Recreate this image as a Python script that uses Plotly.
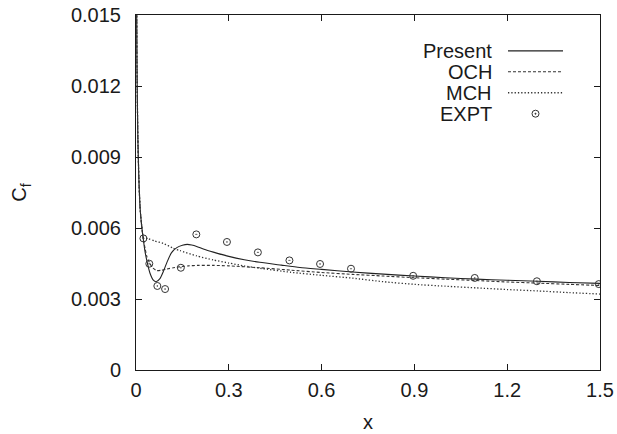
import plotly.graph_objects as go

# Skin-friction coefficient along the plate
present_x = [0.0015, 0.002, 0.003, 0.004, 0.006, 0.008, 0.010, 0.013, 0.016, 0.020, 0.024,
             0.028, 0.0345, 0.045, 0.056, 0.065, 0.078, 0.088, 0.101, 0.115, 0.132, 0.150,
             0.166, 0.180, 0.196, 0.220, 0.250, 0.300, 0.350, 0.400, 0.470, 0.530, 0.600,
             0.700, 0.800, 0.900, 1.000, 1.100, 1.200, 1.300, 1.400, 1.500]
present_cf = [0.0190, 0.0158, 0.0132, 0.0118, 0.0098, 0.0087, 0.0078, 0.0069, 0.0064, 0.0059, 0.0055,
              0.0051, 0.00465, 0.0041, 0.0038, 0.00373, 0.00387, 0.00415, 0.00458, 0.00496, 0.00517, 0.00527,
              0.00531, 0.00528, 0.00522, 0.00510, 0.00498, 0.00480, 0.00466, 0.00455, 0.00443, 0.00433, 0.00425,
              0.00414, 0.00405, 0.00397, 0.00390, 0.00384, 0.00379, 0.00375, 0.00370, 0.00366]

och_x = [0.0015, 0.002, 0.003, 0.004, 0.006, 0.008, 0.010, 0.013, 0.016, 0.020, 0.024,
         0.030, 0.035, 0.045, 0.055, 0.067, 0.080, 0.100, 0.121, 0.145, 0.170, 0.200,
         0.250, 0.300, 0.400, 0.500, 0.600, 0.700, 0.800, 0.900, 1.000, 1.100, 1.200,
         1.300, 1.400, 1.500]
och_cf = [0.0190, 0.0158, 0.0132, 0.0118, 0.0098, 0.0087, 0.0078, 0.0069, 0.0064, 0.0059, 0.0055,
          0.0051, 0.0048, 0.0045, 0.0043, 0.0042, 0.00421, 0.00427, 0.00432, 0.00437, 0.00440, 0.00442,
          0.00442, 0.00440, 0.00432, 0.00422, 0.00412, 0.00404, 0.00397, 0.00390, 0.00384, 0.00378, 0.00372,
          0.00367, 0.00362, 0.00357]

mch_x = [0.0015, 0.002, 0.003, 0.004, 0.006, 0.008, 0.010, 0.013, 0.016, 0.020, 0.024,
         0.040, 0.060, 0.088, 0.120, 0.143, 0.196, 0.250, 0.300, 0.350, 0.400, 0.500,
         0.600, 0.700, 0.800, 0.900, 1.000, 1.100, 1.200, 1.300, 1.400, 1.500]
mch_cf = [0.0190, 0.0158, 0.0132, 0.0118, 0.0098, 0.0087, 0.0078, 0.0069, 0.0064, 0.0059, 0.0056,
          0.00555, 0.00545, 0.00535, 0.00515, 0.00504, 0.00482, 0.00465, 0.00452, 0.00440, 0.00430, 0.00413,
          0.00400, 0.00388, 0.00373, 0.00362, 0.00354, 0.00347, 0.00340, 0.00334, 0.00327, 0.00321]

expt_x = [0.024, 0.043, 0.069, 0.094, 0.145, 0.195, 0.294, 0.394, 0.496, 0.595,
          0.695, 0.896, 1.095, 1.296, 1.496]
expt_cf = [0.00556, 0.00449, 0.00355, 0.00342, 0.00432, 0.00573, 0.00541, 0.00497, 0.00463, 0.00448,
           0.00428, 0.00398, 0.00389, 0.00375, 0.00363]

x_ticks = [0, 0.3, 0.6, 0.9, 1.2, 1.5]
x_tick_text = ["0", "0.3", "0.6", "0.9", "1.2", "1.5"]
y_ticks = [0, 0.003, 0.006, 0.009, 0.012, 0.015]
y_tick_text = ["0", "0.003", "0.006", "0.009", "0.012", "0.015"]

legend_names = ["Present", "OCH", "MCH", "EXPT"]

INK = "#1a1a1a"
LINE_W = 1.1
FS = 20
FONT = "Liberation Sans, Arial, Helvetica, sans-serif"

fig = go.Figure()
fig.add_trace(go.Scatter(x=present_x, y=present_cf, mode="lines", name=legend_names[0],
                         line=dict(color="#222222", width=LINE_W, shape="spline", smoothing=0.6)))
fig.add_trace(go.Scatter(x=och_x, y=och_cf, mode="lines", name=legend_names[1],
                         line=dict(color="#333333", width=LINE_W, dash="3px,2px",
                                   shape="spline", smoothing=0.6)))
fig.add_trace(go.Scatter(x=mch_x, y=mch_cf, mode="lines", name=legend_names[2],
                         line=dict(color="#333333", width=1.3, dash="1.3px,2px",
                                   shape="spline", smoothing=0.6)))
fig.add_trace(go.Scatter(x=expt_x, y=expt_cf, mode="markers", name=legend_names[3],
                         marker=dict(symbol="circle-open-dot", size=7, color="#333333",
                                     line=dict(width=1, color="#333333"))))

# Legend drawn by hand: label on the left, sample on the right
label_x = 0.7716
sample_x0, sample_x1 = 0.8017, 0.9203
rows_y = [0.899, 0.840, 0.781, 0.722]
styles = [dict(dash="solid", color="#222222", width=LINE_W),
          dict(dash="3px,2px", color="#333333", width=LINE_W),
          dict(dash="1.3px,2px", color="#333333", width=1.3)]
annotations = []
shapes = []
for name, ry in zip(legend_names, rows_y):
    annotations.append(dict(text=name, x=label_x, y=ry, xref="paper", yref="paper",
                            xanchor="right", yanchor="middle", showarrow=False,
                            font=dict(family=FONT, size=FS, color=INK)))
for st, ry in zip(styles, rows_y[:3]):
    shapes.append(dict(type="line", xref="paper", yref="paper", x0=sample_x0, x1=sample_x1,
                       y0=ry, y1=ry, line=dict(color=st["color"], width=st["width"], dash=st["dash"])))
mx = (sample_x0 + sample_x1) / 2
shapes.append(dict(type="circle", xref="paper", yref="paper", xsizemode="pixel", ysizemode="pixel",
                   xanchor=mx, yanchor=rows_y[3], x0=-3.5, x1=3.5, y0=-3.5, y1=3.5,
                   line=dict(color="#333333", width=1)))
shapes.append(dict(type="circle", xref="paper", yref="paper", xsizemode="pixel", ysizemode="pixel",
                   xanchor=mx, yanchor=rows_y[3], x0=-0.7, x1=0.7, y0=-0.7, y1=0.7,
                   fillcolor="#333333", line=dict(color="#333333", width=0.5)))

axis_common = dict(showline=True, linecolor=INK, linewidth=1, mirror="allticks",
                   ticks="inside", ticklen=6, tickwidth=1, tickcolor=INK,
                   showgrid=False, zeroline=False, automargin=False,
                   tickfont=dict(family=FONT, size=FS, color=INK))

fig.update_layout(
    width=617, height=434,
    margin=dict(l=136, r=17, t=15, b=64),
    paper_bgcolor="white", plot_bgcolor="white",
    showlegend=False,
    font=dict(family=FONT, size=FS, color=INK),
    xaxis=dict(range=[0, 1.5], tickvals=x_ticks, ticktext=x_tick_text,
               ticklabelstandoff=2,
               title=dict(text="x", standoff=14, font=dict(family=FONT, size=FS, color=INK)),
               **axis_common),
    yaxis=dict(range=[0, 0.015], tickvals=y_ticks, ticktext=y_tick_text,
               ticklabelstandoff=10,
               title=dict(text="C<sub>f</sub>", standoff=38, font=dict(family=FONT, size=FS, color=INK)),
               **axis_common),
    annotations=annotations,
    shapes=shapes,
)

fig.write_html("out.html")
